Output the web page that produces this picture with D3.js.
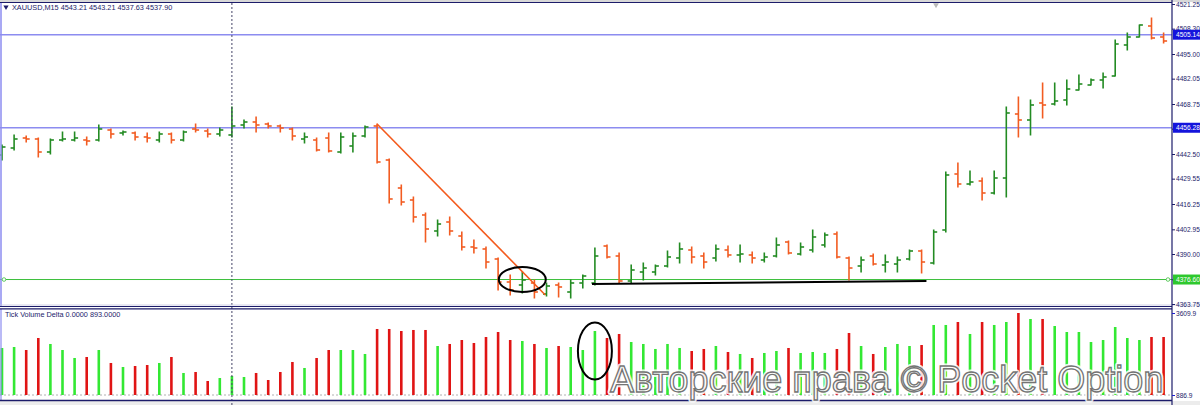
<!DOCTYPE html>
<html><head><meta charset="utf-8">
<script src="https://cdn.jsdelivr.net/npm/d3@7"></script>
<style>
body{margin:0;background:#fff;overflow:hidden;}
svg{display:block;font-family:"Liberation Sans",Arial,sans-serif;}
</style>
</head><body><svg id="c" width="1200" height="405"></svg>
<script>
// ---------- DATA ----------
const titleText = "XAUUSD,M15  4543.21 4543.21 4537.63 4537.90";
const subTitleText = "Tick Volume Delta 0.0000 893.0000";
const watermarkText = "Авторские права © Pocket Option";

const opens = [4441.98,4445.65,4450.90,4450.38,4443.55,4449.85,4449.85,4449.85,4449.85,4455.10,
4453.53,4453.53,4451.43,4449.85,4453.00,4449.85,4455.63,4454.58,4453.00,4452.48,
4457.73,4459.30,4458.25,4457.20,4455.63,4450.38,4449.85,4450.90,4443.55,4446.70,
4451.95,4457.20,4439.35,4424.65,4418.35,4410.48,4402.08,4406.80,4399.45,4393.68,
4392.63,4387.38,4375.30,4373.73,4374.78,4369.00,4373.73,4370.05,4374.78,4374.78,
4394.20,4388.95,4375.83,4380.55,4380.55,4383.70,4387.90,4392.10,4388.95,4387.90,
4392.10,4389.48,4389.48,4386.85,4388.95,4396.30,4390.00,4392.10,4394.73,4400.50,
4387.90,4383.70,4388.95,4384.23,4384.75,4387.38,4391.58,4385.28,4402.60,4432.00,
4426.75,4428.33,4422.03,4429.90,4463.50,4460.35,4469.28,4468.75,4470.85,4476.10,
4478.73,4481.35,4483.45,4499.73,4503.93,4509.70,4503.93];
const highs = [4447.23,4452.48,4451.95,4450.90,4450.38,4454.05,4454.05,4451.43,4457.73,4455.63,
4454.58,4454.05,4453.53,4454.05,4453.53,4454.58,4458.25,4455.63,4456.15,4467.18,
4460.35,4461.93,4458.78,4457.73,4456.15,4453.53,4450.90,4453.53,4453.53,4453.53,
4457.20,4458.25,4439.88,4426.23,4419.93,4411.53,4407.85,4409.43,4401.55,4397.35,
4393.68,4387.90,4378.98,4380.55,4376.35,4374.78,4374.78,4376.35,4378.98,4393.15,
4394.73,4390.53,4384.23,4385.28,4384.23,4391.58,4395.78,4393.68,4390.53,4394.73,
4394.20,4394.73,4391.05,4390.53,4398.40,4396.83,4395.78,4402.60,4401.03,4401.55,
4388.43,4388.43,4390.00,4389.48,4388.43,4392.10,4392.10,4402.60,4433.05,4437.78,
4433.58,4429.90,4433.58,4467.18,4472.43,4470.85,4479.78,4479.78,4481.35,4483.98,
4481.88,4485.03,4502.35,4506.03,4510.23,4513.90,4506.03];
const lows = [4439.35,4444.60,4448.80,4440.93,4442.50,4449.33,4449.33,4447.23,4449.33,4450.90,
4452.48,4449.85,4448.80,4448.80,4448.28,4449.33,4454.05,4451.43,4451.95,4451.43,
4456.15,4454.05,4456.15,4454.05,4449.85,4448.28,4444.08,4443.55,4443.03,4443.55,
4451.43,4437.78,4416.78,4415.73,4406.80,4396.30,4399.45,4399.98,4392.10,4390.53,
4382.65,4371.10,4368.48,4369.53,4366.90,4367.95,4367.43,4366.90,4372.15,4373.73,
4387.90,4374.78,4374.78,4376.35,4378.98,4383.18,4385.28,4385.28,4382.65,4386.33,
4388.43,4385.80,4385.28,4385.80,4388.43,4390.00,4389.48,4391.05,4393.68,4387.90,
4376.35,4380.55,4384.23,4380.55,4380.55,4386.85,4380.03,4384.75,4401.55,4425.18,
4426.23,4418.35,4421.50,4419.93,4451.43,4452.48,4461.40,4468.23,4468.23,4476.10,
4478.73,4477.15,4483.45,4497.10,4503.93,4502.88,4500.78];
const closes = [4446.18,4450.38,4450.38,4443.55,4449.85,4450.38,4450.90,4449.33,4455.63,4453.00,
4454.05,4451.43,4450.90,4453.00,4449.85,4454.05,4455.10,4453.00,4455.10,4457.20,
4459.30,4457.73,4457.20,4456.15,4451.95,4451.43,4444.60,4444.08,4451.43,4451.95,
4456.68,4438.30,4418.88,4417.30,4409.43,4403.13,4405.75,4402.08,4393.68,4393.15,
4385.80,4375.30,4371.10,4376.35,4370.05,4373.20,4372.68,4374.78,4378.45,4388.95,
4388.43,4375.83,4381.60,4382.65,4383.70,4388.43,4392.63,4388.43,4385.80,4392.63,
4389.48,4390.00,4387.90,4388.43,4394.73,4390.53,4393.68,4398.93,4399.98,4388.43,
4382.65,4386.85,4384.75,4385.80,4386.85,4391.58,4385.80,4401.55,4431.48,4426.75,
4427.80,4422.03,4429.90,4464.03,4460.35,4468.23,4468.23,4470.33,4476.63,4479.25,
4481.35,4482.93,4500.25,4503.93,4510.23,4503.40,4501.83];
const deltaVolume = [2448,2481,2381,2780,2581,2381,2116,2149,2381,1950,
1817,1850,1883,1950,2149,1618,1651,1352,1451,1518,
1485,1618,1385,1651,1983,1784,2116,2381,2381,2381,
2249,3079,3079,3012,3046,3046,2514,2581,2713,2614,
2813,2979,2713,2680,2581,2448,2514,2481,2381,3012,
2780,2913,2647,2581,2415,2581,2448,2348,2415,2514,
2315,2249,2116,2282,2348,2448,2282,2315,2282,2415,
2946,2514,2249,2481,2581,2514,2547,3212,3212,3311,
2913,3311,3212,3311,3609.9,3411,3411,3178,2979,2979,
2647,2713,3145,2780,2713,2813,2813];

const priceTicks = [4521.25,4508.30,4495.00,4482.05,4468.75,4455.80,4442.50,4429.55,4416.25,4402.95,4390.00,4376.70,4363.75];
const volumeTicks = [3609.9, 886.9];
const blueLevels = [4505.14, 4456.28];
const greenLevels = [4376.60];
const trendLine = [[31, 4458.25], [44.9, 4368.48]];
const supportLine = [[48.76, 4374.25], [76.4, 4375.83]];
const priceMarker = [43, 4376.6];
const volumeMarker = [49, 2348];
const periodSeparatorBar = 19;

// ---------- SETUP ----------
const svg = d3.select("#c");
const W = 1200, H = 405, axisX = 1172;
const n = opens.length;
const x = d3.scaleLinear().domain([0, n - 1]).range([2, 1163.6]);
const y = d3.scaleLinear().domain([4363.75, 4521.25]).range([304, 4]);
const yv = d3.scaleLinear().domain([886.9, 3609.9]).range([395, 313]);
const FS = "6.6px";

const C = {navy:"#1c1c6a", up:"#238b23", dn:"#f25c22", vUp:"#33e833", vDn:"#e01414",
  blue:"#8c8cf0", green:"#3cbf3c"};

svg.append("rect").attr("width", W).attr("height", H).attr("fill", "#fff");
const defs = svg.append("defs");
defs.append("clipPath").attr("id", "cpMain").append("rect").attr("x", 0).attr("y", 3).attr("width", axisX).attr("height", 303);
defs.append("clipPath").attr("id", "cpVol").append("rect").attr("x", 0).attr("y", 309).attr("width", axisX).attr("height", 91);

svg.append("rect").attr("x", 0).attr("y", 0).attr("width", W).attr("height", 2).attr("fill", "#d8d8d8");
svg.append("rect").attr("x", 0).attr("y", 401).attr("width", W).attr("height", 4).attr("fill", "#ececec");

// ---------- MAIN PANEL ----------
const main = svg.append("g").attr("clip-path", "url(#cpMain)");

main.selectAll("line.bl").data(blueLevels).join("line")
  .attr("x1", 0).attr("x2", axisX).attr("y1", d => y(d)).attr("y2", d => y(d))
  .attr("stroke", C.blue).attr("stroke-width", 1.5);
main.selectAll("line.gl").data(greenLevels).join("line")
  .attr("x1", 0).attr("x2", axisX).attr("y1", d => y(d)).attr("y2", d => y(d))
  .attr("stroke", C.green).attr("stroke-width", 1);
greenLevels.forEach(v => {
  [4, axisX - 4].forEach(cx => main.append("circle").attr("cx", cx).attr("cy", y(v)).attr("r", 1.8)
    .attr("fill", "#fff").attr("stroke", C.green).attr("stroke-width", 0.8));
});

const bars = main.selectAll("g.bar").data(d3.range(n)).join("g")
  .attr("stroke", i => closes[i] >= opens[i] ? C.up : C.dn).attr("stroke-width", 1.6);
bars.append("line").attr("x1", i => x(i)).attr("x2", i => x(i)).attr("y1", i => y(highs[i]) - 0.5).attr("y2", i => y(lows[i]) + 0.5);
bars.append("line").attr("x1", i => x(i) - 3.5).attr("x2", i => x(i)).attr("y1", i => y(opens[i])).attr("y2", i => y(opens[i]));
bars.append("line").attr("x1", i => x(i)).attr("x2", i => x(i) + 3.5).attr("y1", i => y(closes[i])).attr("y2", i => y(closes[i]));

main.append("line").attr("x1", x(trendLine[0][0])).attr("y1", y(trendLine[0][1]))
  .attr("x2", x(trendLine[1][0])).attr("y2", y(trendLine[1][1]))
  .attr("stroke", "#f45a1c").attr("stroke-width", 1.6);
main.append("line").attr("x1", x(supportLine[0][0])).attr("y1", y(supportLine[0][1]))
  .attr("x2", x(supportLine[1][0])).attr("y2", y(supportLine[1][1]))
  .attr("stroke", "#000").attr("stroke-width", 2);
main.append("ellipse").attr("cx", x(priceMarker[0])).attr("cy", y(priceMarker[1]))
  .attr("rx", 23.5).attr("ry", 12.5).attr("fill", "none").attr("stroke", "#000").attr("stroke-width", 2);

// ---------- VOLUME PANEL ----------
const vol = svg.append("g").attr("clip-path", "url(#cpVol)");
vol.append("line").attr("x1", 0).attr("x2", axisX).attr("y1", yv(886.9)).attr("y2", yv(886.9))
  .attr("stroke", "#b0b0b0").attr("stroke-dasharray", "2,2").attr("stroke-width", 1);
vol.selectAll("rect.v").data(d3.range(n)).join("rect")
  .attr("x", i => x(i) - 1.3).attr("width", 2.6)
  .attr("y", i => yv(deltaVolume[i])).attr("height", i => yv(886.9) - yv(deltaVolume[i]))
  .attr("fill", i => closes[i] >= opens[i] ? C.vUp : C.vDn);
vol.append("ellipse").attr("cx", x(volumeMarker[0])).attr("cy", yv(volumeMarker[1]))
  .attr("rx", 17).attr("ry", 28.5).attr("fill", "none").attr("stroke", "#000").attr("stroke-width", 2);

// ---------- FRAMES ----------
svg.append("line").attr("x1", x(periodSeparatorBar)).attr("x2", x(periodSeparatorBar)).attr("y1", 3).attr("y2", 405)
  .attr("stroke", "#444466").attr("stroke-width", 1).attr("stroke-dasharray", "2,2");
svg.append("line").attr("x1", 0).attr("x2", axisX).attr("y1", 2.5).attr("y2", 2.5).attr("stroke", C.navy).attr("stroke-width", 1);
svg.append("line").attr("x1", 1).attr("x2", 1).attr("y1", 3).attr("y2", 306).attr("stroke", "#8c8cf0").attr("stroke-width", 1.5);
svg.append("line").attr("x1", 1).attr("x2", 1).attr("y1", 309).attr("y2", 400).attr("stroke", "#8c8cf0").attr("stroke-width", 1.2);
svg.append("line").attr("x1", 0).attr("x2", axisX).attr("y1", 306.5).attr("y2", 306.5).attr("stroke", C.navy).attr("stroke-width", 1.2);
svg.append("line").attr("x1", 0).attr("x2", axisX + 28).attr("y1", 305).attr("y2", 305).attr("stroke", "#c8c8e0").attr("stroke-width", 0.8);
svg.append("line").attr("x1", 0).attr("x2", axisX).attr("y1", 308.8).attr("y2", 308.8).attr("stroke", C.navy).attr("stroke-width", 1.2);
svg.append("line").attr("x1", 0).attr("x2", axisX).attr("y1", 400.5).attr("y2", 400.5).attr("stroke", C.navy).attr("stroke-width", 1.4);
svg.append("line").attr("x1", axisX).attr("x2", axisX).attr("y1", 0).attr("y2", 405).attr("stroke", C.navy).attr("stroke-width", 1.2);

svg.append("path").attr("d", d3.symbol().type(d3.symbolTriangle).size(14)()).attr("transform", "translate(936,5) rotate(180)").attr("fill", "#b8b8b8");

// ---------- AXES ----------
const axP = svg.append("g").attr("transform", `translate(${axisX},0)`)
  .call(d3.axisRight(y).tickValues(priceTicks).tickSize(3).tickPadding(1).tickFormat(d3.format(".2f")));
axP.select(".domain").remove();
axP.selectAll("line").attr("stroke", C.navy);
axP.selectAll("text").attr("fill", C.navy).style("font-size", FS).style("font-family", '"Liberation Sans",Arial,sans-serif');

const axV = svg.append("g").attr("transform", `translate(${axisX},0)`)
  .call(d3.axisRight(yv).tickValues(volumeTicks).tickSize(3).tickPadding(1).tickFormat(d3.format(".1f")));
axV.select(".domain").remove();
axV.selectAll("line").attr("stroke", "#2020d0");
axV.selectAll("text").attr("fill", C.navy).style("font-size", FS).style("font-family", '"Liberation Sans",Arial,sans-serif');

function levelBox(v, fill) {
  const g = svg.append("g");
  g.append("rect").attr("x", axisX + 1).attr("y", y(v) - 5).attr("width", W - axisX).attr("height", 10).attr("fill", fill);
  g.append("text").attr("x", axisX + 4).attr("y", y(v)).attr("dy", "0.34em").attr("fill", "#fff")
    .style("font-size", FS).text(d3.format(".2f")(v));
}
blueLevels.forEach(v => levelBox(v, "#1414dc"));
greenLevels.forEach(v => levelBox(v, "#2ec82e"));

// ---------- TITLES ----------
svg.append("path").attr("d", d3.symbol().type(d3.symbolTriangle).size(12)()).attr("transform", "translate(6,7) rotate(180)").attr("fill", C.navy);
svg.append("text").attr("x", 12).attr("y", 10).attr("fill", C.navy).style("font-size", "7.3px").text(titleText);
svg.append("text").attr("x", 5).attr("y", 317).attr("fill", C.navy).style("font-size", "7.3px").text(subTitleText);

// ---------- WATERMARK ----------
const wm = svg.append("g").style("font-size", "36px").style("font-family", '"Liberation Sans",Arial,sans-serif');
wm.append("text").attr("x", 610).attr("y", 392).text(watermarkText)
  .attr("fill", "none").attr("stroke", "#fff").attr("stroke-width", 5).attr("stroke-opacity", 0.85).attr("stroke-linejoin", "round");
wm.append("text").attr("x", 610).attr("y", 392).text(watermarkText)
  .attr("fill", "#fff").attr("fill-opacity", 0.55).attr("stroke", "#747474").attr("stroke-width", 1.3);
</script>
</body></html>
